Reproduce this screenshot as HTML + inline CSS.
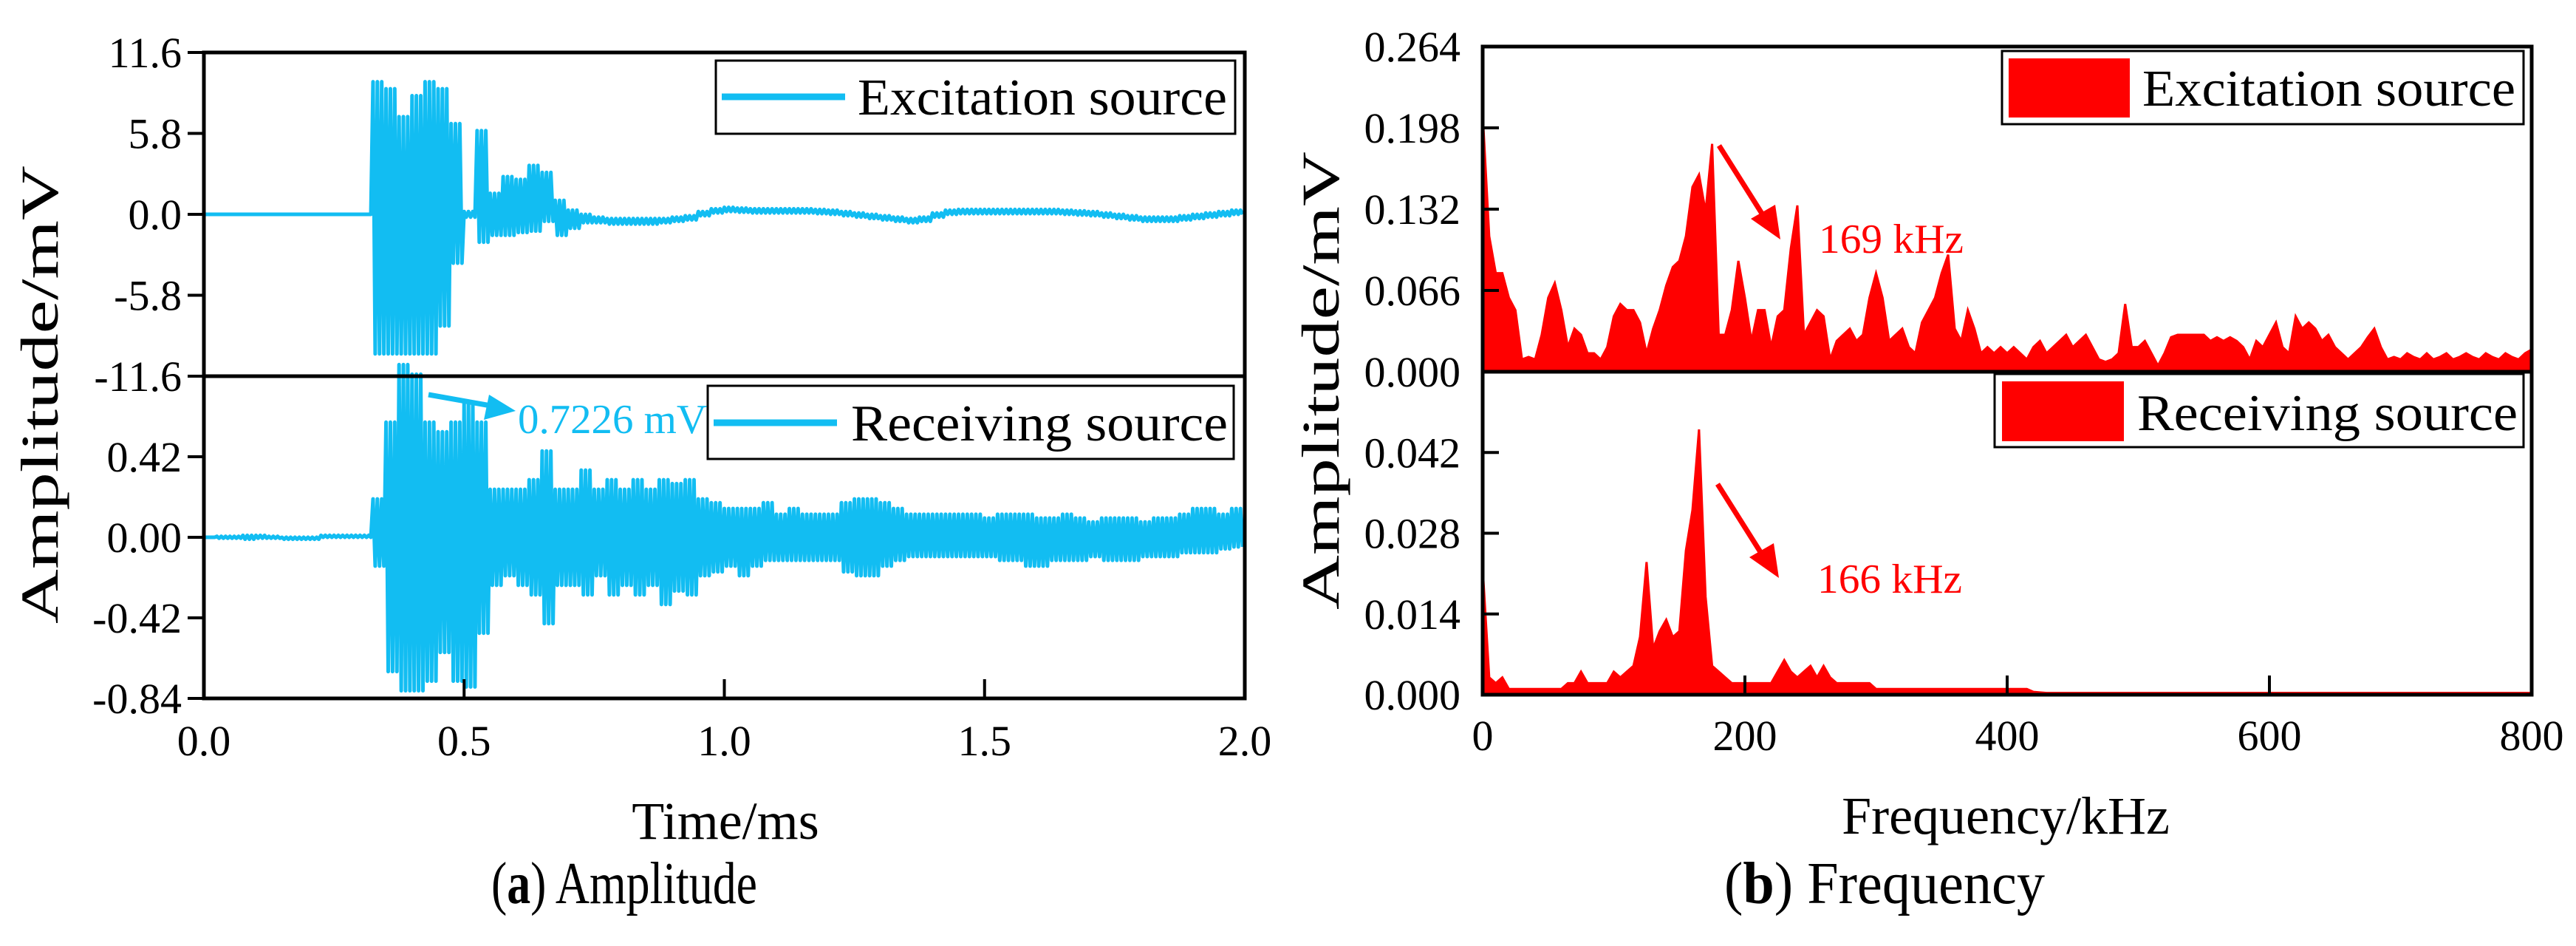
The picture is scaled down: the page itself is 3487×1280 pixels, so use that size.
<!DOCTYPE html>
<html><head><meta charset="utf-8"><style>
html,body{margin:0;padding:0;background:#fff}
svg{display:block;font-family:"Liberation Serif",serif}
</style></head><body>
<svg id="fig" width="3487" height="1280" viewBox="0 0 3487 1280" xmlns="http://www.w3.org/2000/svg">
<g id="pa"></g>
<g id="pb"></g>
</svg>
<script>
// ---- Time-domain data (envelope per 0.025 ms bin, 80 bins) ----
const excMax = [0,0,0,0,0,0,0,0,0,0,0,0,0, 9.5,9,7,8.5,9.5,9,6.5,0.2,6,1.5,2.7,2.5,3.5,3,1,0.3,0,
 -0.2,-0.3,-0.3,-0.3,-0.3,-0.3,-0.2,-0.1,0.2,0.4,0.5,0.45,0.4,0.4,0.4,0.4,0.4,0.35,0.3,0.2,
 0.1,0,-0.1,-0.2,-0.3,-0.2,0.1,0.3,0.35,0.35,0.35,0.35,0.35,0.35,0.35,0.35,0.3,0.25,0.2,0.1,
 0,-0.1,-0.2,-0.2,-0.2,-0.1,0,0.1,0.2,0.3];
const excMin = [0,0,0,0,0,0,0,0,0,0,0,0,0, -10,-10,-10,-10,-10,-8,-3.5,-0.2,-2,-1.5,-1.5,-1.3,-1.2,-0.5,-1.5,-1,-0.6,
 -0.6,-0.7,-0.7,-0.7,-0.7,-0.6,-0.5,-0.4,-0.1,0.1,0.2,0.15,0.1,0.1,0.1,0.1,0.1,0.05,0,-0.1,
 -0.2,-0.3,-0.4,-0.5,-0.6,-0.5,-0.2,0,0.05,0.05,0.05,0.05,0.05,0.05,0.05,0.05,0,-0.05,-0.1,-0.2,
 -0.3,-0.4,-0.5,-0.5,-0.5,-0.4,-0.3,-0.2,-0.1,0];
const recMax = [0,0.005,0.005,0.01,0.01,0.005,0,0,0,0.01,0.01,0.01,0.01, 0.2,0.6,0.9,0.85,0.6,0.55,0.6,0.7,0.6,0.25,0.25,0.25,0.3,0.45,0.25,0.25,0.35,
 0.25,0.3,0.25,0.3,0.25,0.3,0.28,0.3,0.2,0.18,0.15,0.15,0.15,0.18,0.12,0.15,0.12,0.12,0.12,0.18,
 0.2,0.2,0.18,0.15,0.12,0.12,0.12,0.12,0.12,0.12,0.1,0.12,0.12,0.12,0.1,0.1,0.12,0.1,0.08,0.1,
 0.1,0.1,0.08,0.1,0.1,0.12,0.15,0.15,0.12,0.15];
const recMin = [0,-0.005,-0.005,-0.01,-0.005,-0.005,-0.01,-0.01,-0.01,0,0,0,0, -0.15,-0.7,-0.8,-0.8,-0.75,-0.6,-0.75,-0.78,-0.5,-0.25,-0.2,-0.25,-0.3,-0.45,-0.25,-0.25,-0.3,
 -0.2,-0.3,-0.25,-0.3,-0.25,-0.35,-0.28,-0.3,-0.2,-0.18,-0.15,-0.2,-0.15,-0.12,-0.12,-0.12,-0.12,-0.12,-0.12,-0.18,
 -0.2,-0.2,-0.15,-0.12,-0.1,-0.1,-0.1,-0.1,-0.1,-0.1,-0.1,-0.12,-0.12,-0.15,-0.15,-0.12,-0.12,-0.12,-0.1,-0.12,
 -0.12,-0.12,-0.1,-0.1,-0.1,-0.08,-0.08,-0.08,-0.06,-0.05];
const timeTicks = ["0.0","0.5","1.0","1.5","2.0"];
const excTicks = ["11.6","5.8","0.0","-5.8","-11.6"];
const recTicks = ["0.42","0.00","-0.42","-0.84"];

// ---- Spectrum data (peak per 5 kHz bin, 0..800 kHz) ----
const excSpec = [0.21,0.11,0.08,0.08,0.06,0.05,0.01,0.012,0.01,0.03,0.06,0.072,0.05,0.02,0.035,0.03,0.015,0.015,0.01,0.02,
 0.045,0.055,0.05,0.05,0.04,0.015,0.035,0.05,0.07,0.085,0.09,0.11,0.15,0.16,0.13,0.185,0.03,0.03,0.05,0.09,
 0.06,0.025,0.05,0.05,0.02,0.045,0.05,0.1,0.135,0.03,0.04,0.05,0.045,0.01,0.025,0.03,0.035,0.025,0.03,0.06,
 0.08,0.06,0.025,0.03,0.035,0.02,0.015,0.04,0.05,0.06,0.08,0.095,0.035,0.025,0.05,0.035,0.015,0.02,0.015,0.02,
 0.015,0.02,0.015,0.01,0.02,0.025,0.015,0.02,0.025,0.03,0.02,0.025,0.03,0.02,0.01,0.008,0.01,0.015,0.055,0.02,
 0.02,0.025,0.015,0.005,0.015,0.028,0.03,0.03,0.03,0.03,0.03,0.025,0.028,0.025,0.028,0.025,0.02,0.01,0.025,0.02,
 0.03,0.04,0.02,0.015,0.045,0.035,0.04,0.035,0.025,0.03,0.02,0.015,0.01,0.015,0.02,0.028,0.035,0.02,0.01,0.012,
 0.01,0.015,0.012,0.01,0.015,0.01,0.012,0.015,0.01,0.012,0.015,0.012,0.01,0.015,0.012,0.01,0.015,0.012,0.01,0.015,0.018];
const recSpec = [0.022,0.003,0.002,0.003,0.001,0.001,0.001,0.001,0.001,0.001,0.001,0.001,0.001,0.002,0.002,0.004,0.002,0.002,0.002,0.002,
 0.004,0.003,0.004,0.005,0.01,0.023,0.008,0.011,0.013,0.01,0.011,0.025,0.032,0.046,0.017,0.005,0.004,0.003,0.002,0.002,
 0.002,0.002,0.002,0.002,0.002,0.004,0.006,0.004,0.003,0.004,0.005,0.003,0.005,0.003,0.002,0.002,0.002,0.002,0.002,0.002,
 0.001,0.001,0.001,0.001,0.001,0.001,0.001,0.001,0.001,0.001,0.001,0.001,0.001,0.001,0.001,0.001,0.001,0.001,0.001,0.001,
 0.001,0.001,0.001,0.001,0.0005,0.0004,0.0003,0.0003,0.0003,0.0003,0.0003,0.0003,0.0003,0.0003,0.0003,0.0003,0.0003,0.0003,0.0003,0.0003,
 0.0003,0.0003,0.0003,0.0003,0.0003,0.0003,0.0003,0.0003,0.0003,0.0003,0.0003,0.0003,0.0003,0.0003,0.0003,0.0003,0.0003,0.0003,0.0003,0.0003,
 0.0003,0.0003,0.0003,0.0003,0.0003,0.0003,0.0003,0.0003,0.0003,0.0003,0.0003,0.0003,0.0003,0.0003,0.0003,0.0003,0.0003,0.0003,0.0003,0.0003,
 0.0003,0.0003,0.0003,0.0003,0.0003,0.0003,0.0003,0.0003,0.0003,0.0003,0.0003,0.0003,0.0003,0.0003,0.0003,0.0003,0.0003,0.0003,0.0003,0.0003,0.0003];
const freqTicks = ["0","200","400","600","800"];
const excSpecTicks = ["0.264","0.198","0.132","0.066","0.000"];
const recSpecTicks = ["0.042","0.028","0.014","0.000"];

const NS="http://www.w3.org/2000/svg";
function mk(parent,tag,attrs,text){const e=document.createElementNS(NS,tag);for(const k in attrs)e.setAttribute(k,attrs[k]);if(text!==undefined)e.textContent=text;parent.appendChild(e);return e;}
const BLUE="#12bdf2", RED="#ff0000";

// ===== Panel A =====
const pa=document.getElementById('pa');
const A={x0:276,x1:1685,yT:71,yM:509,yB:945};
const tx=t=>A.x0+(t/2)*(A.x1-A.x0);
const yExc=v=>(A.yT+A.yM)/2 - v/11.6*(A.yM-A.yT)/2;
const yRec=v=>(A.yM+A.yB)/2 - v/0.84*(A.yB-A.yM)/2;
function zigPath(maxA,minA,xf,yf){
  const n=maxA.length, dt=2/n, sub=6; let pts=[];
  for(let i=0;i<n;i++){
    for(let k=0;k<sub;k++){
      const t=i*dt+k*dt/sub;
      pts.push(xf(t)+","+yf(k%2===0?maxA[i]:minA[i]));
    }
  }
  return "M"+pts.join(" L");
}
let e;
e=mk(pa,'path',{d:zigPath(excMax,excMin,tx,yExc),fill:'none',stroke:BLUE,'stroke-width':5,'stroke-linejoin':'round'});


e=mk(pa,'path',{d:zigPath(recMax,recMin,tx,yRec),fill:'none',stroke:BLUE,'stroke-width':5,'stroke-linejoin':'round'});


mk(pa,'rect',{x:A.x0,y:A.yT,width:A.x1-A.x0,height:A.yB-A.yT,fill:'none',stroke:'#000','stroke-width':5});
mk(pa,'line',{x1:A.x0,x2:A.x1,y1:A.yM,y2:A.yM,stroke:'#000','stroke-width':5});
excTicks.forEach((t,i)=>{const y=A.yT+i*(A.yM-A.yT)/4;mk(pa,'line',{x1:A.x0-22,x2:A.x0,y1:y,y2:y,stroke:'#000','stroke-width':4});
 e=mk(pa,'text',{x:A.x0-30,y:y+20,'font-size':58,'text-anchor':'end'},t);
 
 });
recTicks.forEach((t,i)=>{const y=A.yM+(i+1)*(A.yB-A.yM)/4;mk(pa,'line',{x1:A.x0-22,x2:A.x0,y1:y,y2:y,stroke:'#000','stroke-width':4});
 e=mk(pa,'text',{x:A.x0-30,y:y+20,'font-size':58,'text-anchor':'end'},t);
 
 });
timeTicks.forEach((t,i)=>{const x=tx(i*0.5);mk(pa,'line',{x1:x,x2:x,y1:A.yB-26,y2:A.yB,stroke:'#000','stroke-width':4});
 e=mk(pa,'text',{x:x,y:1022,'font-size':58,'text-anchor':'middle'},t);
 
 });
e=mk(pa,'rect',{x:969,y:82,width:703,height:99,fill:'#fff',stroke:'#000','stroke-width':3});


mk(pa,'line',{x1:977,x2:1144,y1:131,y2:131,stroke:BLUE,'stroke-width':9});
mk(pa,'text',{x:1161,y:155,'font-size':70,textLength:500,lengthAdjust:'spacingAndGlyphs'},'Excitation source');
e=mk(pa,'rect',{x:958,y:522,width:712,height:99,fill:'#fff',stroke:'#000','stroke-width':3});


mk(pa,'line',{x1:966,x2:1133,y1:572,y2:572,stroke:BLUE,'stroke-width':9});
mk(pa,'text',{x:1152,y:596,'font-size':70,textLength:510,lengthAdjust:'spacingAndGlyphs'},'Receiving source');
mk(pa,'line',{x1:580,y1:534,x2:670,y2:550,stroke:BLUE,'stroke-width':7});
mk(pa,'polygon',{points:"698,556 662,534 655,568",fill:BLUE});
e=mk(pa,'text',{x:701,y:586,'font-size':56,fill:BLUE,textLength:256,lengthAdjust:'spacingAndGlyphs'},'0.7226 mV');


e=mk(pa,'text',{x:0,y:0,'font-size':72,'text-anchor':'middle',transform:'translate(78,534) rotate(-90)',textLength:620,lengthAdjust:'spacingAndGlyphs'},'Amplitude/mV');


e=mk(pa,'text',{x:982,y:1135,'font-size':72,'text-anchor':'middle'},'Time/ms');


e=mk(pa,'text',{x:845,y:1222,'font-size':80,'text-anchor':'middle',textLength:360,lengthAdjust:'spacingAndGlyphs'});
e.innerHTML='(<tspan font-weight="bold">a</tspan>) Amplitude';



// ===== Panel B =====
const pb=document.getElementById('pb');
const B={x0:2007,x1:3427,yT:63,yM:503,yB:940};
const fx=f=>B.x0+(f/800)*(B.x1-B.x0);
const yES=v=>B.yM-v/0.264*(B.yM-B.yT);
const yRS=v=>B.yB-v/0.056*(B.yB-B.yM);
function specPath(arr,yf,base){
  let p="M"+fx(0)+","+base;
  arr.forEach((v,i)=>{p+=" L"+fx(i*5)+","+yf(v);});
  p+=" L"+fx(800)+","+base+" Z";return p;
}
e=mk(pb,'path',{d:specPath(excSpec,yES,B.yM),fill:RED,stroke:RED,'stroke-width':3});


e=mk(pb,'path',{d:specPath(recSpec,yRS,B.yB),fill:RED,stroke:RED,'stroke-width':3});


mk(pb,'rect',{x:B.x0,y:B.yT,width:B.x1-B.x0,height:B.yB-B.yT,fill:'none',stroke:'#000','stroke-width':5});
mk(pb,'line',{x1:B.x0,x2:B.x1,y1:B.yM,y2:B.yM,stroke:'#000','stroke-width':5});
excSpecTicks.forEach((t,i)=>{const y=B.yT+i*(B.yM-B.yT)/4;mk(pb,'line',{x1:B.x0,x2:B.x0+22,y1:y,y2:y,stroke:'#000','stroke-width':4});
 e=mk(pb,'text',{x:1977,y:y+20,'font-size':58,'text-anchor':'end'},t);
 
 });
recSpecTicks.forEach((t,i)=>{const y=B.yM+(i+1)*(B.yB-B.yM)/4;mk(pb,'line',{x1:B.x0,x2:B.x0+22,y1:y,y2:y,stroke:'#000','stroke-width':4});
 e=mk(pb,'text',{x:1977,y:y+20,'font-size':58,'text-anchor':'end'},t);
 
 });
freqTicks.forEach((t,i)=>{const x=fx(i*200);mk(pb,'line',{x1:x,x2:x,y1:B.yB-26,y2:B.yB,stroke:'#000','stroke-width':4});
 e=mk(pb,'text',{x:x,y:1015,'font-size':58,'text-anchor':'middle'},t);
 
 });
e=mk(pb,'rect',{x:2710,y:69,width:706,height:99,fill:'#fff',stroke:'#000','stroke-width':3});


mk(pb,'rect',{x:2719,y:79,width:164,height:80,fill:RED});
mk(pb,'text',{x:2900,y:143,'font-size':70,textLength:505,lengthAdjust:'spacingAndGlyphs'},'Excitation source');
e=mk(pb,'rect',{x:2700,y:506,width:716,height:99,fill:'#fff',stroke:'#000','stroke-width':3});


mk(pb,'rect',{x:2710,y:516,width:165,height:81,fill:RED});
mk(pb,'text',{x:2893,y:582,'font-size':70,textLength:515,lengthAdjust:'spacingAndGlyphs'},'Receiving source');
mk(pb,'line',{x1:2327,y1:197,x2:2392,y2:300,stroke:RED,'stroke-width':7});
mk(pb,'polygon',{points:"2410,324 2370,296 2403,277",fill:RED});
mk(pb,'line',{x1:2325,y1:655,x2:2390,y2:758,stroke:RED,'stroke-width':7});
mk(pb,'polygon',{points:"2408,782 2368,754 2401,735",fill:RED});
e=mk(pb,'text',{x:2462,y:342,'font-size':56,fill:RED,textLength:196,lengthAdjust:'spacingAndGlyphs'},'169 kHz');


e=mk(pb,'text',{x:2460,y:802,'font-size':56,fill:RED,textLength:196,lengthAdjust:'spacingAndGlyphs'},'166 kHz');


e=mk(pb,'text',{x:0,y:0,'font-size':72,'text-anchor':'middle',transform:'translate(1812,515) rotate(-90)',textLength:620,lengthAdjust:'spacingAndGlyphs'},'Amplitude/mV');


e=mk(pb,'text',{x:2715,y:1128,'font-size':72,'text-anchor':'middle'},'Frequency/kHz');


e=mk(pb,'text',{x:2551,y:1222,'font-size':80,'text-anchor':'middle',textLength:434,lengthAdjust:'spacingAndGlyphs'});
e.innerHTML='(<tspan font-weight="bold">b</tspan>) Frequency';


</script>
</body></html>
